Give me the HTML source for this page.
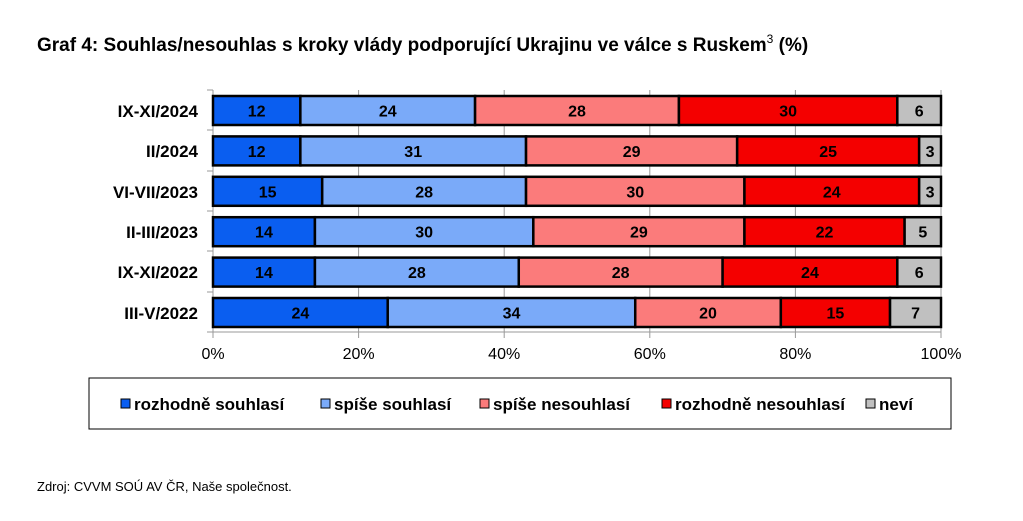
<!DOCTYPE html>
<html><head><meta charset="utf-8"><style>
body{margin:0;background:#fff;}
svg{display:block;font-family:"Liberation Sans",Arial,sans-serif;}
</style></head><body>
<svg width="1023" height="521" viewBox="0 0 1023 521" xmlns="http://www.w3.org/2000/svg">
<rect width="1023" height="521" fill="#fff"/>
<text x="37" y="51" font-size="19" font-weight="bold" fill="#000">Graf 4: Souhlas/nesouhlas s kroky vlády podporující Ukrajinu ve válce s Ruskem<tspan font-size="12" dy="-8" font-weight="normal">3</tspan><tspan dy="8"> (%)</tspan></text>
<g stroke="#999" stroke-width="1">
<line x1="358.6" y1="90" x2="358.6" y2="332"/>
<line x1="504.2" y1="90" x2="504.2" y2="332"/>
<line x1="649.8" y1="90" x2="649.8" y2="332"/>
<line x1="795.4" y1="90" x2="795.4" y2="332"/>
<line x1="941" y1="90" x2="941" y2="332"/>
<line x1="213" y1="90" x2="213" y2="338"/>
<line x1="213" y1="332" x2="941" y2="332"/>
<line x1="207" y1="90" x2="213" y2="90"/><line x1="207" y1="130" x2="213" y2="130"/><line x1="207" y1="171" x2="213" y2="171"/><line x1="207" y1="211" x2="213" y2="211"/><line x1="207" y1="251" x2="213" y2="251"/><line x1="207" y1="292" x2="213" y2="292"/><line x1="207" y1="332" x2="213" y2="332"/>
<line x1="358.6" y1="332" x2="358.6" y2="338"/><line x1="504.2" y1="332" x2="504.2" y2="338"/><line x1="649.8" y1="332" x2="649.8" y2="338"/><line x1="795.4" y1="332" x2="795.4" y2="338"/><line x1="941" y1="332" x2="941" y2="338"/>
</g>
<g id="bars" stroke="#000" stroke-width="2.5" font-size="16" font-weight="bold" text-anchor="middle"></g>
<g font-size="17" font-weight="bold" text-anchor="end" fill="#000">
<text x="198" y="117">IX-XI/2024</text>
<text x="198" y="157">II/2024</text>
<text x="198" y="198">VI-VII/2023</text>
<text x="198" y="238">II-III/2023</text>
<text x="198" y="278">IX-XI/2022</text>
<text x="198" y="319">III-V/2022</text>
</g>
<g font-size="16" text-anchor="middle" fill="#000">
<text x="213" y="359">0%</text><text x="358.6" y="359">20%</text><text x="504.2" y="359">40%</text><text x="649.8" y="359">60%</text><text x="795.4" y="359">80%</text><text x="941" y="359">100%</text>
</g>
<rect x="89" y="378" width="862" height="51" fill="none" stroke="#000" stroke-width="1"/>
<g stroke="#000" stroke-width="1">
<rect x="121" y="399" width="9" height="9" fill="#0a5ef0"/>
<rect x="321" y="399" width="9" height="9" fill="#7aaaf9"/>
<rect x="480" y="399" width="9" height="9" fill="#fb7b7b"/>
<rect x="662" y="399" width="9" height="9" fill="#f40000"/>
<rect x="866" y="399" width="9" height="9" fill="#c0c0c0"/>
</g>
<g font-size="17" font-weight="bold" fill="#000">
<text x="134" y="410">rozhodně souhlasí</text>
<text x="334" y="410">spíše souhlasí</text>
<text x="493" y="410">spíše nesouhlasí</text>
<text x="675" y="410">rozhodně nesouhlasí</text>
<text x="879" y="410">neví</text>
</g>
<text x="37" y="491" font-size="13" fill="#000">Zdroj: CVVM SOÚ AV ČR, Naše společnost.</text>
<script>
var d=[[12,24,28,30,6],[12,31,29,25,3],[15,28,30,24,3],[14,30,29,22,5],[14,28,28,24,6],[24,34,20,15,7]];
var c=["#0a5ef0","#7aaaf9","#fb7b7b","#f40000","#c0c0c0"];
var g=document.getElementById("bars"),ns="http://www.w3.org/2000/svg";
d.forEach(function(r,i){var y=96+i*40.4,x=213;r.forEach(function(v,j){var w=v*7.28;
var e=document.createElementNS(ns,"rect");e.setAttribute("x",x);e.setAttribute("y",y);e.setAttribute("width",w);e.setAttribute("height",29);e.setAttribute("fill",c[j]);g.appendChild(e);
var t=document.createElementNS(ns,"text");t.setAttribute("x",x+w/2);t.setAttribute("y",y+20.5);t.setAttribute("stroke","none");t.setAttribute("fill","#000");t.textContent=v;g.appendChild(t);x+=w;});});
</script>
</svg>
</body></html>
